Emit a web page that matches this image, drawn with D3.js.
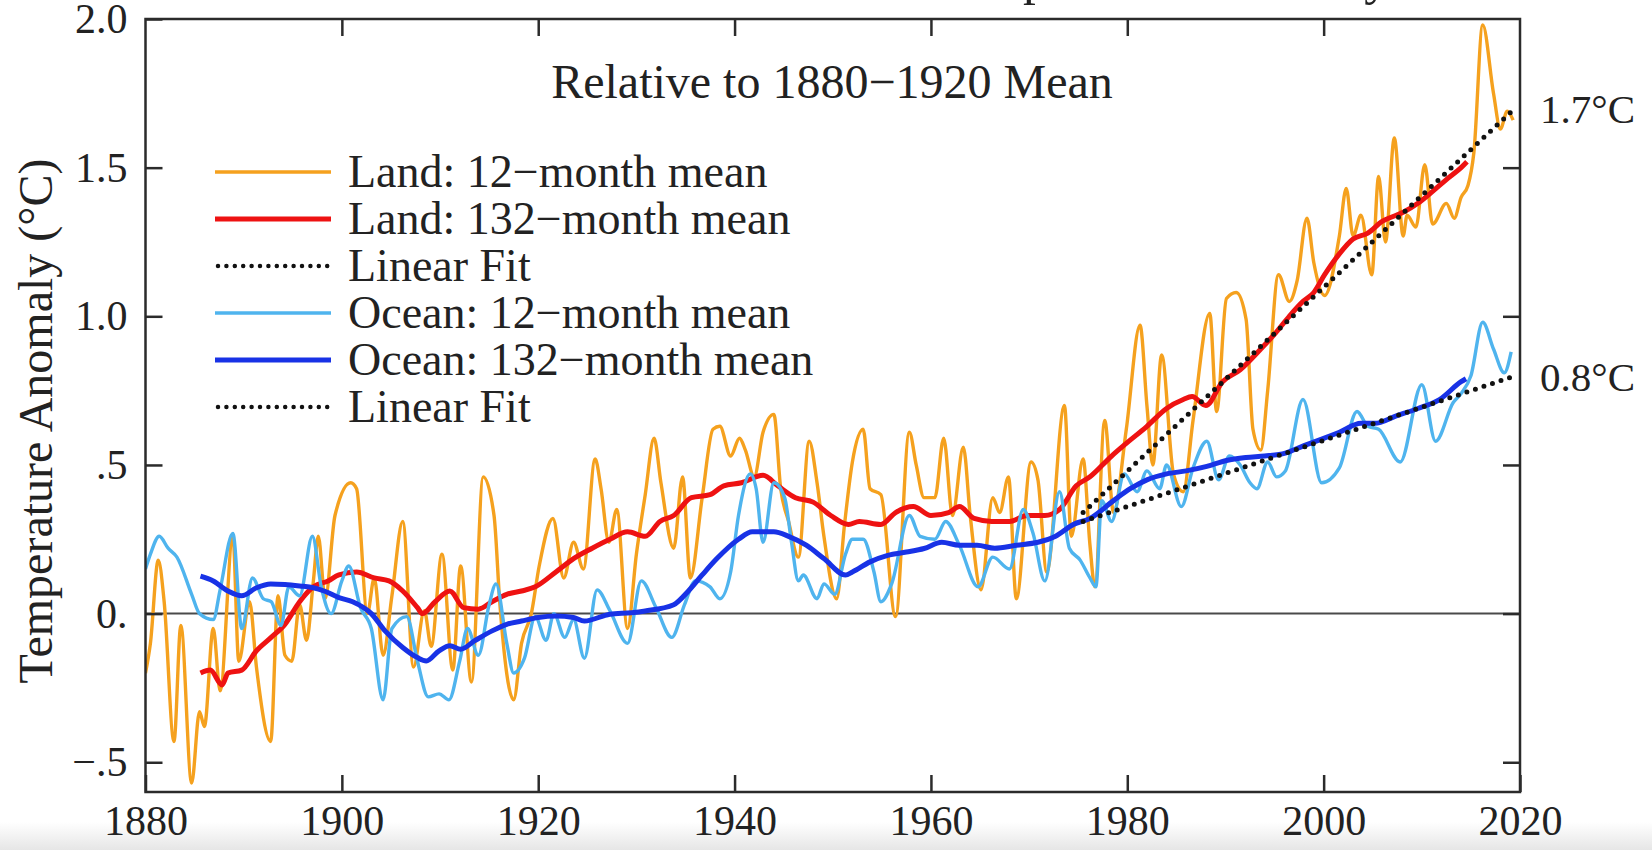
<!DOCTYPE html>
<html>
<head>
<meta charset="utf-8">
<script src="https://cdn.jsdelivr.net/npm/d3@7"></script>
<style>
  html, body { margin: 0; padding: 0; background: #fff; overflow: hidden; }
  svg { display: block; }
  text { font-family: "Liberation Serif", "Times New Roman", serif; fill: #222; }
</style>
</head>
<body>
<svg id="chart" width="1652" height="850"></svg>
<script>
// ---- axis ticks ----
const yearTicks = [1880, 1900, 1920, 1940, 1960, 1980, 2000, 2020];
const anomalyTicks = [-0.5, 0, 0.5, 1.0, 1.5, 2.0];
const anomalyTickLabels = ["\u2212.5", "0.", ".5", "1.0", "1.5", "2.0"];

// ---- Land: 12-month running mean [year, anomaly °C] ----
const landAnnual = [
  [1880.0,-0.20],[1880.5,-0.10],[1881.3,0.18],[1881.9,0.04],[1882.9,-0.43],[1883.6,-0.04],
  [1884.7,-0.57],[1885.5,-0.33],[1886.0,-0.38],[1886.9,-0.05],[1887.6,-0.26],[1888.9,0.26],
  [1889.5,-0.16],[1890.6,0.04],[1891.3,-0.18],[1892.75,-0.43],[1893.5,0.06],[1894.2,-0.14],
  [1894.9,-0.16],[1895.7,0.03],[1896.4,-0.09],[1897.1,0.11],[1897.6,0.26],[1898.3,0.05],
  [1899.3,0.33],[1900.9,0.44],[1901.5,0.42],[1902.6,0.00],[1903.3,0.12],[1904.2,-0.14],
  [1905.1,0.06],[1906.2,0.31],[1907.3,-0.18],[1908.4,0.01],[1909.1,-0.11],[1910.2,0.20],
  [1911.3,-0.19],[1912.1,0.16],[1913.2,-0.23],[1914.4,0.46],[1915.5,0.33],[1916.1,0.03],
  [1917.5,-0.29],[1918.3,-0.10],[1919.3,0.00],[1920.1,0.16],[1921.5,0.32],[1922.6,0.12],
  [1923.6,0.24],[1924.6,0.15],[1925.8,0.52],[1926.4,0.42],[1927.2,0.24],[1928.0,0.35],
  [1929.1,-0.05],[1930.0,0.20],[1930.9,0.40],[1931.8,0.59],[1932.5,0.44],[1933.8,0.22],
  [1934.7,0.46],[1935.5,0.12],[1936.7,0.39],[1937.8,0.62],[1938.5,0.63],[1939.6,0.53],
  [1940.5,0.59],[1941.1,0.55],[1942.0,0.46],[1942.9,0.61],[1944.0,0.67],[1944.7,0.42],
  [1945.5,0.31],[1946.5,0.19],[1947.6,0.58],[1948.4,0.44],[1949.1,0.26],[1950.4,0.05],
  [1951.2,0.30],[1952.0,0.51],[1953.1,0.62],[1953.8,0.42],[1954.9,0.40],[1956.4,-0.01],
  [1957.8,0.61],[1958.5,0.50],[1959.3,0.39],[1960.4,0.39],[1961.3,0.59],[1962.2,0.33],
  [1963.3,0.56],[1964.0,0.33],[1965.1,0.08],[1966.3,0.39],[1967.0,0.34],[1967.9,0.46],
  [1968.7,0.05],[1970.2,0.51],[1970.9,0.45],[1971.8,0.14],[1973.6,0.70],[1974.3,0.26],
  [1975.5,0.52],[1976.2,0.23],[1976.7,0.09],[1977.7,0.65],[1978.6,0.34],[1979.9,0.62],
  [1981.3,0.97],[1982.0,0.70],[1982.6,0.50],[1983.5,0.87],[1984.7,0.47],[1985.7,0.41],
  [1986.7,0.65],[1988.4,1.01],[1989.1,0.68],[1990.1,1.06],[1991.1,1.08],[1992.1,0.99],
  [1992.8,0.62],[1993.6,0.55],[1994.3,0.75],[1995.4,1.14],[1996.5,1.05],[1997.3,1.12],
  [1998.3,1.33],[1999.0,1.18],[2000.1,1.07],[2001.6,1.27],[2002.3,1.43],[2003.0,1.27],
  [2003.8,1.34],[2004.9,1.14],[2005.6,1.47],[2006.3,1.25],[2007.2,1.60],[2008.1,1.27],
  [2008.5,1.34],[2009.4,1.30],[2010.3,1.51],[2011.1,1.31],[2012.5,1.38],[2013.3,1.33],
  [2014.0,1.40],[2014.7,1.44],[2015.3,1.55],[2016.2,1.98],[2017.3,1.75],[2018.0,1.63],
  [2018.7,1.69],[2019.3,1.66]
];

// ---- Land: 132-month running mean ----
const landDecadal = [
  [1885.6,-0.20],[1886.6,-0.19],[1887.8,-0.24],[1888.4,-0.20],[1889.8,-0.19],[1891.3,-0.125],
  [1892.8,-0.08],[1894.2,-0.036],[1895.7,0.04],[1897.1,0.09],[1898.6,0.11],[1899.7,0.13],
  [1901.5,0.14],[1903.3,0.12],[1904.8,0.11],[1906.2,0.076],[1907.7,0.02],[1908.2,0.00],
  [1909.5,0.04],[1911.0,0.076],[1912.4,0.02],[1913.9,0.015],[1915.3,0.04],[1916.8,0.065],
  [1918.3,0.076],[1919.7,0.09],[1921.8,0.14],[1923.6,0.185],[1925.5,0.22],[1927.3,0.25],
  [1929.1,0.275],[1930.9,0.26],[1932.4,0.31],[1933.8,0.33],[1935.6,0.39],[1937.5,0.40],
  [1938.9,0.43],[1940.7,0.44],[1942.9,0.465],[1944.4,0.43],[1946.2,0.39],[1948.0,0.375],
  [1949.8,0.33],[1951.6,0.30],[1952.7,0.31],[1954.9,0.30],[1956.4,0.34],[1958.2,0.36],
  [1960.0,0.33],[1961.8,0.34],[1962.9,0.36],[1964.4,0.32],[1966.2,0.31],[1968.0,0.31],
  [1969.8,0.33],[1971.6,0.33],[1973.1,0.35],[1974.8,0.43],[1976.2,0.46],[1978.4,0.53],
  [1979.8,0.57],[1982.0,0.63],[1984.0,0.69],[1985.7,0.72],[1986.6,0.73],[1988.0,0.70],
  [1989.7,0.78],[1991.5,0.82],[1993.6,0.89],[1995.0,0.94],[1996.5,1.00],[1997.9,1.05],
  [1999.0,1.08],[2000.1,1.14],[2001.6,1.21],[2003.0,1.26],[2004.5,1.28],[2006.0,1.32],
  [2007.4,1.34],[2008.1,1.35],[2009.6,1.38],[2011.1,1.42],[2012.5,1.46],[2014.0,1.50],
  [2014.6,1.52]
];

// ---- Ocean: 12-month running mean ----
const oceanAnnual = [
  [1880.0,0.15],[1880.5,0.20],[1881.4,0.26],[1882.3,0.22],[1883.2,0.19],[1884.7,0.065],
  [1885.5,0.00],[1886.9,-0.02],[1887.6,0.08],[1888.9,0.27],[1889.8,-0.05],[1890.9,0.12],
  [1892.0,0.05],[1892.8,0.04],[1893.8,-0.04],[1894.6,0.09],[1895.7,0.06],[1897.0,0.26],
  [1897.9,0.09],[1898.9,0.00],[1900.0,0.11],[1900.7,0.16],[1901.9,0.02],[1903.0,-0.05],
  [1904.2,-0.29],[1905.1,-0.05],[1906.6,-0.01],[1907.7,-0.16],[1908.8,-0.28],[1909.9,-0.27],
  [1910.9,-0.29],[1912.0,-0.16],[1912.8,-0.05],[1913.9,-0.14],[1915.0,0.03],[1915.7,0.10],
  [1916.8,-0.10],[1917.5,-0.20],[1918.6,-0.15],[1919.7,-0.01],[1920.8,-0.09],[1921.6,0.00],
  [1922.7,-0.08],[1923.6,-0.02],[1924.7,-0.15],[1926.0,0.08],[1927.3,0.01],[1929.1,-0.10],
  [1930.5,0.11],[1932.0,0.02],[1933.6,-0.08],[1934.9,0.03],[1936.0,0.11],[1937.5,0.09],
  [1938.5,0.05],[1939.6,0.14],[1940.4,0.33],[1941.6,0.47],[1942.2,0.42],[1942.9,0.24],
  [1944.0,0.44],[1945.1,0.39],[1945.8,0.24],[1946.5,0.11],[1947.0,0.13],[1948.4,0.05],
  [1949.1,0.10],[1950.2,0.065],[1951.3,0.20],[1952.0,0.25],[1953.1,0.25],[1954.2,0.14],
  [1954.9,0.04],[1956.0,0.10],[1957.8,0.33],[1958.9,0.26],[1960.4,0.25],[1961.5,0.31],
  [1962.9,0.23],[1964.8,0.09],[1966.3,0.19],[1968.0,0.15],[1969.4,0.35],[1970.4,0.27],
  [1971.6,0.11],[1973.1,0.41],[1974.1,0.22],[1975.2,0.18],[1976.2,0.12],[1976.8,0.09],
  [1977.4,0.38],[1978.4,0.31],[1979.7,0.47],[1981.0,0.41],[1982.0,0.48],[1983.3,0.42],
  [1984.0,0.50],[1985.5,0.36],[1986.7,0.49],[1988.1,0.58],[1989.3,0.45],[1990.4,0.53],
  [1991.5,0.50],[1992.5,0.44],[1993.2,0.42],[1994.3,0.51],[1995.2,0.46],[1996.1,0.48],
  [1997.9,0.72],[1999.8,0.44],[2001.6,0.49],[2003.4,0.68],[2004.5,0.63],[2005.6,0.62],
  [2007.8,0.51],[2010.0,0.77],[2011.4,0.58],[2013.2,0.71],[2014.0,0.74],[2015.0,0.80],
  [2016.2,0.98],[2017.3,0.89],[2018.4,0.81],[2019.1,0.88]
];

// ---- Ocean: 132-month running mean ----
const oceanDecadal = [
  [1885.6,0.126],[1886.9,0.11],[1888.4,0.076],[1889.8,0.06],[1891.3,0.087],[1892.75,0.10],
  [1894.2,0.098],[1895.7,0.093],[1897.1,0.087],[1898.2,0.076],[1899.7,0.054],[1901.1,0.04],
  [1903.0,0.00],[1904.4,-0.058],[1906.2,-0.114],[1907.7,-0.148],[1908.6,-0.159],[1909.9,-0.125],
  [1911.0,-0.108],[1912.1,-0.12],[1913.5,-0.092],[1915.3,-0.058],[1916.8,-0.036],[1918.3,-0.025],
  [1920.0,-0.013],[1921.8,-0.008],[1923.6,-0.013],[1924.7,-0.025],[1927.3,-0.002],[1929.5,0.003],
  [1930.9,0.009],[1933.8,0.03],[1935.3,0.076],[1936.7,0.13],[1938.2,0.185],[1940.4,0.25],
  [1941.8,0.275],[1944.0,0.275],[1945.5,0.26],[1947.3,0.23],[1949.1,0.185],[1951.3,0.13],
  [1952.0,0.14],[1953.8,0.174],[1955.6,0.196],[1957.5,0.207],[1959.3,0.219],[1961.1,0.24],
  [1962.9,0.23],[1964.7,0.23],[1966.5,0.22],[1968.7,0.23],[1970.9,0.24],[1972.7,0.26],
  [1974.5,0.30],[1976.2,0.32],[1978.6,0.38],[1980.3,0.42],[1982.0,0.45],[1984.0,0.47],
  [1986.0,0.48],[1988.1,0.495],[1990.1,0.515],[1992.1,0.525],[1994.0,0.53],[1996.1,0.54],
  [1998.0,0.565],[1999.8,0.587],[2001.6,0.61],[2003.8,0.64],[2005.2,0.64],[2007.4,0.665],
  [2009.6,0.69],[2011.8,0.72],[2014.0,0.78],[2014.5,0.79]
];

// ---- linear fits since the mid-1970s (end values labelled at right) ----
const landFit = [[1975.5, 0.34], [2019.5, 1.70]];
const oceanFit = [[1975.5, 0.31], [2019.5, 0.80]];
const fitEndLabels = ["1.7\u00B0C", "0.8\u00B0C"];

const legendLabels = [
  "Land: 12\u2212month mean",
  "Land: 132\u2212month mean",
  "Linear Fit",
  "Ocean: 12\u2212month mean",
  "Ocean: 132\u2212month mean",
  "Linear Fit"
];

// ---- styles ----
const ORANGE = "#f5a11e", RED = "#ee1212", LIGHTBLUE = "#4fb4ee", BLUE = "#1832e6";
const styles = [
  { color: ORANGE, width: 3.4, dash: null },
  { color: RED, width: 5, dash: null },
  { color: "#111", width: 4.5, dash: "0 8.4" },
  { color: LIGHTBLUE, width: 3.4, dash: null },
  { color: BLUE, width: 5, dash: null },
  { color: "#111", width: 4.5, dash: "0 8.4" }
];

const svg = d3.select("#chart");
const W = 1652, H = 850;
const plotLeft = 145.5, plotRight = 1520, plotTop = 19, plotBottom = 792;

const x = d3.scaleLinear().domain([1880, 2020]).range([plotLeft, plotRight]);
const y = d3.scaleLinear().domain([-0.6, 2.0]).range([plotBottom, plotTop]);

// page background with a faint grey band at the foot
const defs = svg.append("defs");
const grad = defs.append("linearGradient").attr("id", "foot").attr("x1", 0).attr("x2", 0).attr("y1", 0).attr("y2", 1);
grad.append("stop").attr("offset", "0%").attr("stop-color", "#ffffff");
grad.append("stop").attr("offset", "100%").attr("stop-color", "#e6e6e6");
svg.append("rect").attr("width", W).attr("height", H).attr("fill", "#fff");
svg.append("rect").attr("x", 0).attr("y", 822).attr("width", W).attr("height", H - 822).attr("fill", "url(#foot)");

defs.append("clipPath").attr("id", "plot")
  .append("rect").attr("x", plotLeft).attr("y", plotTop)
  .attr("width", plotRight - plotLeft).attr("height", plotBottom - plotTop);

// heading running off the top edge
svg.append("text")
  .attr("x", 587).attr("y", -6)
  .attr("font-size", 51)
  .text("Land and Ocean Temperature Anomaly");

// zero line
svg.append("line")
  .attr("x1", x(1880)).attr("x2", x(2020))
  .attr("y1", y(0)).attr("y2", y(0))
  .attr("stroke", "#4a4a4a").attr("stroke-width", 2);

// series
const smooth = d3.line().x(d => x(d[0])).y(d => y(d[1])).curve(d3.curveMonotoneX);
const straight = d3.line().x(d => x(d[0])).y(d => y(d[1]));
const plot = svg.append("g").attr("clip-path", "url(#plot)");

const seriesOrder = [
  { data: landAnnual, s: styles[0], gen: smooth },
  { data: landDecadal, s: styles[1], gen: smooth },
  { data: oceanAnnual, s: styles[3], gen: smooth },
  { data: oceanDecadal, s: styles[4], gen: smooth },
  { data: landFit, s: styles[2], gen: straight },
  { data: oceanFit, s: styles[5], gen: straight }
];
seriesOrder.forEach(({ data, s, gen }) => {
  plot.append("path")
    .attr("d", gen(data))
    .attr("fill", "none")
    .attr("stroke", s.color)
    .attr("stroke-width", s.dash ? 5 : s.width)
    .attr("stroke-linejoin", "round")
    .attr("stroke-linecap", s.dash ? "round" : "butt")
    .attr("stroke-dasharray", s.dash ? "0 9" : null);
});

// axes: inward ticks on all four sides
const TICK = 17;
function styleAxis(g) {
  g.select(".domain").remove();
  g.selectAll(".tick line").attr("stroke", "#2b2b2b").attr("stroke-width", 2.5);
  g.selectAll(".tick text").attr("fill", "#222")
    .attr("font-family", "'Liberation Serif', 'Times New Roman', serif").attr("font-size", 42);
}
svg.append("g").attr("transform", `translate(${plotLeft},0)`)
  .call(d3.axisLeft(y).tickValues(anomalyTicks)
    .tickFormat(d => anomalyTickLabels[anomalyTicks.indexOf(d)])
    .tickSize(-TICK).tickPadding(18))
  .call(styleAxis);
svg.append("g").attr("transform", `translate(${plotRight},0)`)
  .call(d3.axisRight(y).tickValues(anomalyTicks.slice(0, -1)).tickFormat("").tickSize(-TICK))
  .call(styleAxis);
svg.append("g").attr("transform", `translate(0,${plotBottom})`)
  .call(d3.axisBottom(x).tickValues(yearTicks).tickFormat(d3.format("d"))
    .tickSize(-TICK).tickPadding(13))
  .call(styleAxis);
svg.append("g").attr("transform", `translate(0,${plotTop})`)
  .call(d3.axisTop(x).tickValues(yearTicks.slice(1, -1)).tickFormat("").tickSize(-TICK))
  .call(styleAxis);

// frame
svg.append("rect")
  .attr("x", plotLeft).attr("y", plotTop)
  .attr("width", plotRight - plotLeft).attr("height", plotBottom - plotTop)
  .attr("fill", "none").attr("stroke", "#2b2b2b").attr("stroke-width", 2.5);

// subtitle
svg.append("text")
  .attr("x", 832).attr("y", 98)
  .attr("text-anchor", "middle").attr("font-size", 48)
  .text("Relative to 1880\u22121920 Mean");

// y-axis title
svg.append("text")
  .attr("transform", "translate(52,421) rotate(-90)")
  .attr("text-anchor", "middle").attr("font-size", 48)
  .text("Temperature Anomaly (\u00B0C)");

// legend
const legend = svg.append("g");
legendLabels.forEach((label, i) => {
  const ry = 172 + i * 47;
  const s = styles[i];
  legend.append("line")
    .attr("x1", s.dash ? 218 : 215).attr("x2", 331)
    .attr("y1", ry).attr("y2", ry)
    .attr("stroke", s.color).attr("stroke-width", s.width)
    .attr("stroke-linecap", s.dash ? "round" : "butt")
    .attr("stroke-dasharray", s.dash);
  legend.append("text")
    .attr("x", 348).attr("y", ry + 15)
    .attr("font-size", 46)
    .text(label);
});

// fit end-value labels
[landFit, oceanFit].forEach((fit, i) => {
  const end = fit[fit.length - 1];
  svg.append("text")
    .attr("x", 1540).attr("y", y(end[1]))
    .attr("dy", "0.36em")
    .attr("font-size", 41)
    .text(fitEndLabels[i]);
});
</script>
</body>
</html>
